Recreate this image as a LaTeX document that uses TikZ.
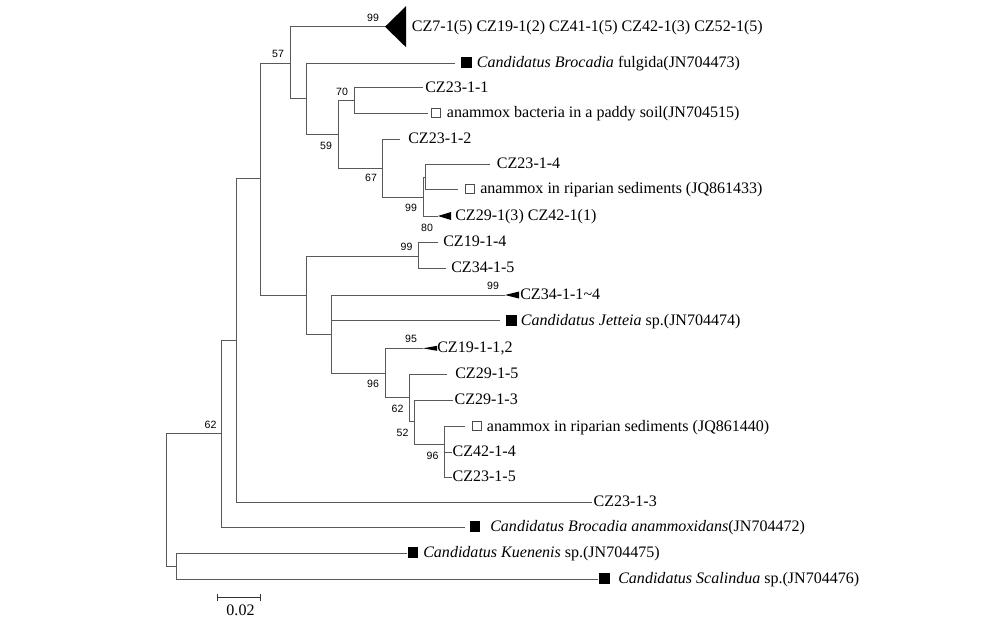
\documentclass[tikz,border=0pt]{standalone}
\usepackage{fontspec}
\setmainfont{Liberation Serif}
\newfontfamily\bootfont{Liberation Sans}

\begin{document}
\begin{tikzpicture}[x=0.025cm,y=-0.025cm,
	branch/.style={draw=black!65,line width=0.6pt},
	leaf/.style={anchor=west,inner sep=0pt,text height=0.66em,text depth=0pt,font=\fontsize{11.4}{13}\selectfont},
	boot/.style={inner sep=0pt,font=\bootfont\fontsize{7.5}{9}\selectfont},
	refsq/.style={draw=black,fill=black,minimum size=7pt,inner sep=0pt},
	envsq/.style={draw=black!70,fill=white,minimum size=6.3pt,inner sep=0pt,line width=0.4pt},
	clade/.style={fill=black}]
	\useasboundingbox (0,0) rectangle (1004,626);
	
	\coordinate (R) at (166.7,433.3);
	\coordinate (A) at (221.7,433.3);
	\coordinate (B) at (236,340);
	\coordinate (C) at (260.3,178.3);
	\coordinate (D) at (290.7,63);
	\coordinate (E) at (306,98.3);
	\coordinate (F) at (338.3,134);
	\coordinate (G) at (354,100);
	\coordinate (H) at (382.7,168);
	\coordinate (I) at (423.3,197);
	\coordinate (J) at (425.3,177);
	\coordinate (K) at (306,295);
	\coordinate (L) at (418.3,256.7);
	\coordinate (M) at (331.7,334);
	\coordinate (N) at (385.3,373.3);
	\coordinate (O) at (409.3,397);
	\coordinate (P) at (414,421.7);
	\coordinate (Q) at (444.7,444.3);
	\coordinate (S) at (176,566);
	
	\coordinate (t1) at (385,26.7);
	\coordinate (t2) at (455,63);
	\coordinate (t3) at (423.3,87.7);
	\coordinate (t4) at (428.3,113.3);
	\coordinate (t5) at (400,139.3);
	\coordinate (t6) at (490,164.3);
	\coordinate (t7) at (458,189.3);
	\coordinate (t8) at (438,216);
	\coordinate (t9) at (438.3,242.3);
	\coordinate (t10) at (446,268.3);
	\coordinate (t11) at (505,295);
	\coordinate (t12) at (500,320.7);
	\coordinate (t13) at (423,348.3);
	\coordinate (t14) at (446.7,374);
	\coordinate (t15) at (453.3,400);
	\coordinate (t16) at (465,426.7);
	\coordinate (t17) at (451.7,452.3);
	\coordinate (t18) at (451.7,477.3);
	\coordinate (t19) at (591.7,502.3);
	\coordinate (t20) at (465,527.3);
	\coordinate (t21) at (407,553.3);
	\coordinate (t22) at (598,579);
	
	\draw[branch] (R) |- (A) (R) |- (S)
		(A) |- (B) (A) |- (t20)
		(B) |- (C) (B) |- (t19)
		(C) |- (D) (C) |- (K)
		(D) |- (t1) (D) |- (E)
		(E) |- (t2) (E) |- (F)
		(F) |- (G) (F) |- (H)
		(G) |- (t3) (G) |- (t4)
		(H) |- (t5) (H) |- (I)
		(I) |- (J) (I) |- (t8)
		(J) |- (t6) (J) |- (t7)
		(K) |- (L) (K) |- (M)
		(L) |- (t9) (L) |- (t10)
		(M) |- (t11) (M) |- (t12) (M) |- (N)
		(N) |- (t13) (N) |- (O)
		(O) |- (t14) (O) |- (P)
		(P) |- (t15) (P) |- (Q)
		(Q) |- (t16) (Q) |- (t17) (Q) |- (t18)
		(S) |- (t21) (S) |- (t22);
	
	\fill[clade] (t1) -- ++(21,-20.5) -- ++(0,41) -- cycle;
	\fill[clade] (t8) -- ++(13,-4) -- ++(0,8) -- cycle;
	\fill[clade] (t11) -- ++(14,-3.5) -- ++(0,7) -- cycle;
	\fill[clade] (t13) -- ++(14,-2.5) -- ++(0,5) -- cycle;
	
	\node[refsq] (q2) at (466,62) {};
	\node[envsq] (q4) at (436,112.5) {};
	\node[envsq] (q7) at (469.5,188.5) {};
	\node[refsq] (q12) at (511,320) {};
	\node[envsq] (q16) at (476.7,426) {};
	\node[refsq] (q20) at (474.7,526.5) {};
	\node[refsq] (q21) at (412.7,552.5) {};
	\node[refsq] (q22) at (604,578.5) {};
	
	\node[leaf] (l1) at (411.7,26.7) {CZ7-1(5) CZ19-1(2) CZ41-1(5) CZ42-1(3) CZ52-1(5)};
	\node[leaf] (l2) at (476.7,63) {\textit{Candidatus Brocadia} fulgida(JN704473)};
	\node[leaf] (l3) at (425,87.7) {CZ23-1-1};
	\node[leaf] (l4) at (446.7,113.3) {anammox bacteria in a paddy soil(JN704515)};
	\node[leaf] (l5) at (408,139.3) {CZ23-1-2};
	\node[leaf] (l6) at (496.7,164.3) {CZ23-1-4};
	\node[leaf] (l7) at (480,189.3) {anammox in riparian sediments (JQ861433)};
	\node[leaf] (l8) at (455,216) {CZ29-1(3) CZ42-1(1)};
	\node[leaf] (l9) at (443,242.3) {CZ19-1-4};
	\node[leaf] (l10) at (451,268.3) {CZ34-1-5};
	\node[leaf] (l11) at (520,295) {CZ34-1-1\textasciitilde4};
	\node[leaf] (l12) at (520.7,320.7) {\textit{Candidatus Jetteia} sp.(JN704474)};
	\node[leaf] (l13) at (437,348.3) {CZ19-1-1,2};
	\node[leaf] (l14) at (455,374) {CZ29-1-5};
	\node[leaf] (l15) at (454.3,400) {CZ29-1-3};
	\node[leaf] (l16) at (486.7,426.7) {anammox in riparian sediments (JQ861440)};
	\node[leaf] (l17) at (452.3,452.3) {CZ42-1-4};
	\node[leaf] (l18) at (452.3,477.3) {CZ23-1-5};
	\node[leaf] (l19) at (593.3,502.3) {CZ23-1-3};
	\node[leaf] (l20) at (490,527.3) {\textit{Candidatus Brocadia anammoxidans}(JN704472)};
	\node[leaf] (l21) at (423,553.3) {\textit{Candidatus Kuenenis} sp.(JN704475)};
	\node[leaf] (l22) at (618,579) {\textit{Candidatus Scalindua} sp.(JN704476)};
	
	\node[boot] (b1) at (373,17.5) {99};
	\node[boot] (b2) at (278,53.5) {57};
	\node[boot] (b3) at (342,91.5) {70};
	\node[boot] (b4) at (326,145.5) {59};
	\node[boot] (b5) at (371,178) {67};
	\node[boot] (b6) at (411,207.5) {99};
	\node[boot] (b7) at (427,227.5) {80};
	\node[boot] (b8) at (406.5,246.5) {99};
	\node[boot] (b9) at (493,286) {99};
	\node[boot] (b10) at (411,338.5) {95};
	\node[boot] (b11) at (373,384) {96};
	\node[boot] (b12) at (397.5,409) {62};
	\node[boot] (b13) at (402.5,432.5) {52};
	\node[boot] (b14) at (432.5,455.5) {96};
	\node[boot] (b15) at (210.5,425) {62};
	
	\coordinate (s1) at (217.7,597);
	\coordinate (s2) at (260,597);
	\draw[branch,draw=black!80] (s1) -- (s2) (s1) ++(0,-3.5) -- ++(0,7) (s2) ++(0,-3.5) -- ++(0,7);
	\node[font=\fontsize{11.4}{13}\selectfont,inner sep=0pt] (sl) at (240.5,610.7) {0.02};
\end{tikzpicture}
\end{document}
